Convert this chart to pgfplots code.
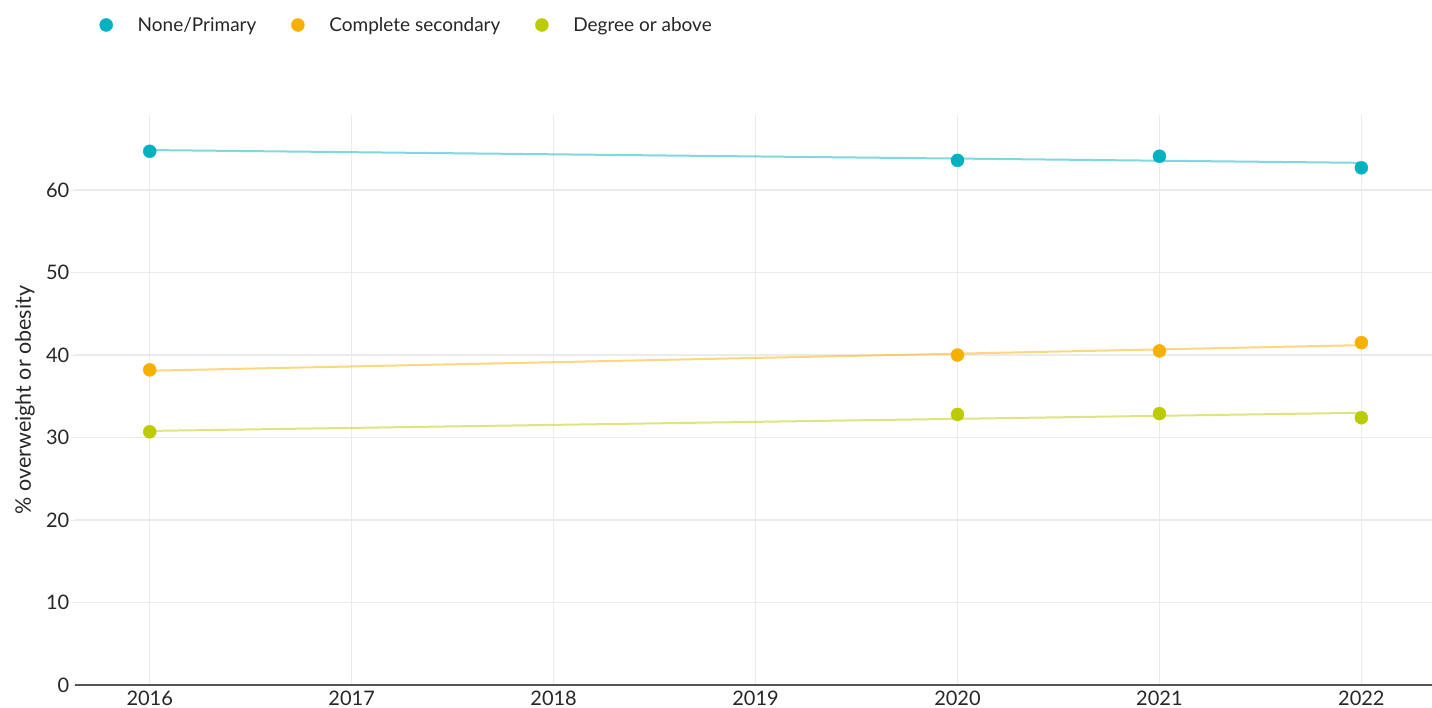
\documentclass[border=0pt]{standalone}
\usepackage{fontspec}
\setmainfont{Lato}
\usepackage{pgfplots}
\pgfplotsset{compat=1.18}
\definecolor{cteal}{HTML}{00B2BF}
\definecolor{corange}{HTML}{F8B000}
\definecolor{cgreen}{HTML}{BACC00}
\definecolor{cgrid}{HTML}{EBEBEB}
\definecolor{caxis}{HTML}{555555}
\begin{document}
\begin{tikzpicture}
\path[use as bounding box] (-75bp,-23bp) rectangle (1357bp,685bp);
\begin{axis}[
  at={(0,0)}, anchor=south west,
  scale only axis, width=1357bp, height=570bp,
  xmin=2015.63, xmax=2022.35, ymin=0, ymax=69.1,
  xtick={2016,2017,2018,2019,2020,2021,2022},
  ytick={0,10,20,30,40,50,60},
  /pgf/number format/assume math mode=true,
  /pgf/number format/1000 sep={},
  tick label style={font=\fontsize{20bp}{22bp}\selectfont, text=black!85},
  axis x line*=bottom, axis y line*=left,
  x axis line style={draw=caxis, line width=2bp, -},
  y axis line style={draw=none},
  xtick style={draw=none},
  ytick style={draw=cgrid, line width=1bp},
  tick align=outside, major tick length=4bp,
  yticklabel style={inner sep=1.5bp},
  xticklabel style={inner sep=2bp},
  grid=major, major grid style={cgrid, line width=1.5bp},
  ylabel={\% overweight or obesity},
  ylabel style={at={(axis description cs:0,0.5)}, anchor=center, yshift=50bp, font=\fontsize{21.5bp}{23bp}\selectfont, text=black!85},
  legend columns=3,
  legend style={draw=none, fill=none, inner sep=0pt, at={(axis description cs:0,1)}, anchor=west, xshift=24.5bp, yshift=90bp,
    font=\fontsize{19bp}{21bp}\selectfont, text=black!85, nodes={inner sep=0pt, anchor=west},
    /tikz/every odd column/.append style={column sep=25bp},
    /tikz/every even column/.append style={column sep=35bp}},
  legend image code/.code={\draw[#1] plot coordinates {(0bp,0bp)};},
  clip=false,
]
\addplot[forget plot, cteal, opacity=0.5, line width=2bp] coordinates {(2016,64.85) (2022,63.3)};
\addplot[forget plot, corange, opacity=0.5, line width=2bp] coordinates {(2016,38.1) (2022,41.2)};
\addplot[forget plot, cgreen, opacity=0.5, line width=2bp] coordinates {(2016,30.8) (2022,33.0)};
\addplot[only marks, mark=*, mark size=6.5bp, mark options={draw=cteal, fill=cteal}] coordinates {(2016,64.7) (2020,63.6) (2021,64.1) (2022,62.7)};
\addlegendentry{None/Primary}
\addplot[only marks, mark=*, mark size=6.5bp, mark options={draw=corange, fill=corange}] coordinates {(2016,38.2) (2020,40.0) (2021,40.5) (2022,41.5)};
\addlegendentry{Complete secondary}
\addplot[only marks, mark=*, mark size=6.5bp, mark options={draw=cgreen, fill=cgreen}] coordinates {(2016,30.7) (2020,32.8) (2021,32.9) (2022,32.4)};
\addlegendentry{Degree or above}
\end{axis}
\end{tikzpicture}
\end{document}
